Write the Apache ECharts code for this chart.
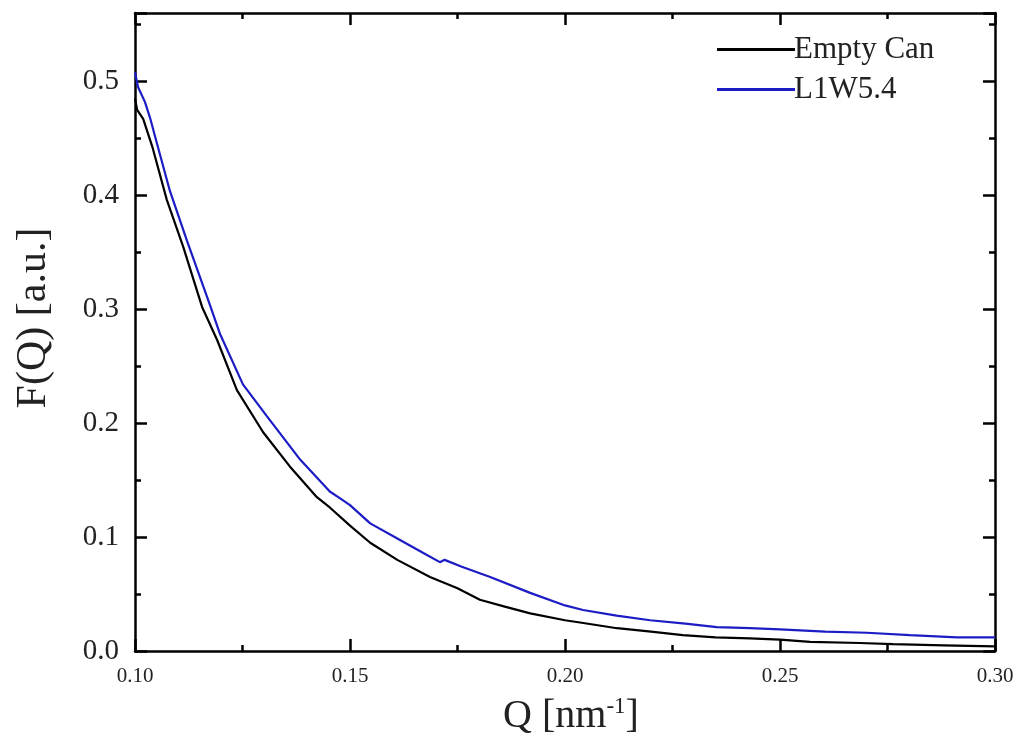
<!DOCTYPE html>
<html>
<head>
<meta charset="utf-8">
<script src="https://cdn.jsdelivr.net/npm/echarts@6/dist/echarts.min.js"></script>
<style>html,body{margin:0;padding:0;background:#fff}#c{width:1021px;height:742px}</style>
</head>
<body>
<div id="c"></div>
<script>
const seriesNames = ['Empty Can', 'L1W5.4'];
const qEmpty = [0.1000,0.1005,0.1019,0.1040,0.1074,0.1112,0.1156,0.1191,0.1237,0.1298,0.1360,0.1423,0.1453,0.1500,0.1547,0.1610,0.1686,0.1750,0.1802,0.1860,0.1919,0.2000,0.2035,0.2121,0.2200,0.2274,0.2350,0.2430,0.2500,0.2570,0.2686,0.2763,0.2880,0.3000];
const fEmpty = [0.485,0.475,0.467,0.443,0.396,0.355,0.302,0.273,0.229,0.192,0.162,0.135,0.126,0.110,0.095,0.080,0.065,0.055,0.045,0.039,0.033,0.027,0.025,0.020,0.017,0.014,0.012,0.011,0.010,0.008,0.007,0.006,0.005,0.004];
const qL1W = [0.1000,0.1007,0.1023,0.1035,0.1050,0.1081,0.1121,0.1174,0.1198,0.1251,0.1307,0.1384,0.1453,0.1477,0.1500,0.1547,0.1609,0.1680,0.1709,0.1720,0.1760,0.1826,0.1919,0.2000,0.2042,0.2120,0.2198,0.2280,0.2353,0.2430,0.2500,0.2605,0.2702,0.2802,0.2912,0.3000];
const fL1W = [0.508,0.495,0.482,0.468,0.447,0.404,0.360,0.304,0.278,0.234,0.206,0.168,0.140,0.134,0.128,0.112,0.099,0.084,0.078,0.080,0.074,0.065,0.051,0.040,0.036,0.031,0.027,0.024,0.021,0.020,0.019,0.017,0.016,0.014,0.012,0.012];
const xTicks = {min: 0.10, max: 0.30, interval: 0.05};
const yTicks = {min: 0.0, max: 0.56, interval: 0.1};

const zip = (a, b) => a.map((v, i) => [v, b[i]]);
const font = 'Liberation Serif';
const chart = echarts.init(document.getElementById('c'));
const frameLine = {show: true, onZero: false, lineStyle: {color: '#000', width: 2.5}};
const tickStyle = {inside: true, length: 12, lineStyle: {width: 2.5, color: '#000'}};
const minorStyle = {show: true, splitNumber: 2, length: 6, lineStyle: {width: 2.5, color: '#000'}};
chart.setOption({
  animation: false,
  backgroundColor: '#fff',
  grid: {left: 135, right: 26, top: 13, bottom: 91, containLabel: false},
  legend: {
    orient: 'vertical', left: 712, top: 29, itemWidth: 78, itemHeight: 3, itemGap: 9,
    textStyle: {fontFamily: font, fontSize: 31, color: '#222', padding: [0, 0, 0, -6]},
    data: seriesNames.map(n => ({name: n, icon: 'rect'}))
  },
  xAxis: [{
    type: 'value', min: xTicks.min, max: xTicks.max, interval: xTicks.interval,
    axisLine: frameLine, axisTick: tickStyle, minorTick: minorStyle,
    splitLine: {show: false},
    axisLabel: {fontFamily: font, fontSize: 21, color: '#222', margin: 15, formatter: v => v.toFixed(2)},
    name: 'Q [nm{sup|-1}]', nameLocation: 'middle', nameGap: 44,
    nameTextStyle: {fontFamily: font, fontSize: 40, color: '#222', padding: [0, 0, 0, 12],
      rich: {sup: {fontFamily: font, fontSize: 23, color: '#222', padding: [0, 0, 20, 0]}}}
  }, {
    type: 'value', position: 'top', min: xTicks.min, max: xTicks.max, interval: xTicks.interval,
    axisLine: frameLine, axisTick: tickStyle, minorTick: minorStyle,
    splitLine: {show: false}, axisLabel: {show: false}
  }],
  yAxis: [{
    type: 'value', min: yTicks.min, max: yTicks.max, interval: yTicks.interval,
    axisLine: frameLine, axisTick: tickStyle, minorTick: minorStyle,
    splitLine: {show: false},
    axisLabel: {fontFamily: font, fontSize: 29, color: '#222', margin: 16, showMaxLabel: false,
      formatter: v => (Math.abs(v * 10 - Math.round(v * 10)) < 1e-6 ? v.toFixed(1) : '')},
    name: 'F(Q) [a.u.]', nameLocation: 'middle', nameGap: 80, nameRotate: 90,
    nameTextStyle: {fontFamily: font, fontSize: 42, color: '#222', padding: [0, 0, 0, 28]}
  }, {
    type: 'value', position: 'right', min: yTicks.min, max: yTicks.max, interval: yTicks.interval,
    axisLine: frameLine, axisTick: tickStyle, minorTick: minorStyle,
    splitLine: {show: false}, axisLabel: {show: false}
  }],
  series: [{
    name: seriesNames[0], type: 'line', symbol: 'none', data: zip(qEmpty, fEmpty),
    lineStyle: {color: '#000', width: 2.2}, itemStyle: {color: '#000'}, z: 3
  }, {
    name: seriesNames[1], type: 'line', symbol: 'none', data: zip(qL1W, fL1W),
    lineStyle: {color: '#1c1cc4', width: 2.2}, itemStyle: {color: '#1c1cc4'}, z: 2
  }]
});
</script>
</body>
</html>
